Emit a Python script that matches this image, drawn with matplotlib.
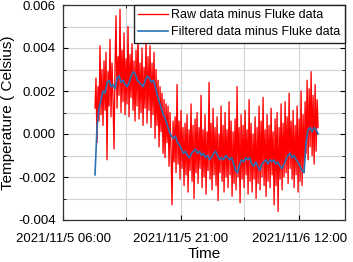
import numpy as np
import pandas as pd
import matplotlib
matplotlib.use("Agg")
import matplotlib.pyplot as plt
from matplotlib.ticker import MultipleLocator, FuncFormatter

plt.rcParams['font.family'] = ['Liberation Sans', 'DejaVu Sans']

# ---- data ----
start_time = "2021-11-05 10:04"
end_time = "2021-11-06 14:25"

filtered = [
    -0.0019, 0.0003, 0.0012, 0.0016, 0.0020, 0.0019, 0.0024, 0.0025, 0.0022, 0.0023,
    0.0021, 0.0026, 0.0027, 0.0024, 0.0025, 0.0023, 0.0022, 0.0024, 0.0027, 0.0029,
    0.0028, 0.0025, 0.0024, 0.0023, 0.0022, 0.0025, 0.0027, 0.0026, 0.0024, 0.0025,
    0.0022, 0.0018, 0.0015, 0.0012, 0.0009, 0.0007, 0.0004, 0.0001, -0.0001, -0.0002,
    -0.0001, -0.0004, -0.0005, -0.0007, -0.0009, -0.0008, -0.0010, -0.0011, -0.0009, -0.0008,
    -0.0007, -0.0009, -0.0008, -0.0010, -0.0009, -0.0011, -0.0010, -0.0012, -0.0011, -0.0009,
    -0.0008, -0.0010, -0.0012, -0.0011, -0.0012, -0.0010, -0.0011, -0.0012, -0.0011, -0.0014,
    -0.0017, -0.0018, -0.0014, -0.0012, -0.0013, -0.0011, -0.0012, -0.0011, -0.0014, -0.0015,
    -0.0013, -0.0015, -0.0017, -0.0014, -0.0013, -0.0012, -0.0014, -0.0012, -0.0013, -0.0012,
    -0.0014, -0.0013, -0.0015, -0.0016, -0.0014, -0.0012, -0.0010, -0.0009, -0.0011, -0.0010,
    -0.0012, -0.0013, -0.0015, -0.0017, -0.0018, -0.0004, 0.0002, 0.0003, 0.0001, 0.0003,
    0.0002, 0.0000,
]

raw = [
    0.0012, 0.0026, -0.0004, 0.0022, 0.0006, 0.0041, 0.0009, 0.0030, 0.0004, 0.0034,
    0.0011, 0.0038, -0.0012, 0.0029, 0.0013, 0.0044, 0.0008, 0.0033, 0.0016, -0.0007,
    0.0031, 0.0055, 0.0012, 0.0036, 0.0018, 0.0058, 0.0010, 0.0039, 0.0015, 0.0047,
    0.0009, 0.0035, 0.0014, 0.0050, 0.0008, 0.0037, 0.0017, 0.0042, 0.0011, 0.0034,
    0.0006, 0.0039, 0.0013, 0.0046, 0.0007, 0.0033, 0.0010, 0.0040, 0.0004, 0.0031,
    0.0012, 0.0044, 0.0005, 0.0036, 0.0011, 0.0041, 0.0003, 0.0033, 0.0009, 0.0038,
    -0.0002, 0.0030, 0.0004, 0.0025, -0.0006, 0.0022, 0.0001, 0.0019, -0.0009, 0.0016,
    -0.0011, 0.0014, -0.0004, 0.0013, -0.0015, 0.0010, -0.0008, -0.0033, 0.0006, -0.0013,
    0.0008, -0.0018, 0.0023, -0.0014, 0.0006, -0.0021, 0.0011, -0.0016, 0.0003, -0.0024,
    0.0005, -0.0019, 0.0009, -0.0027, 0.0002, -0.0017, 0.0014, -0.0022, 0.0004, -0.0030,
    0.0007, -0.0018, 0.0010, -0.0023, 0.0003, -0.0016, 0.0018, -0.0025, 0.0002, -0.0020,
    0.0009, -0.0028, 0.0001, -0.0017, 0.0024, -0.0021, 0.0005, -0.0026, 0.0012, -0.0019,
    0.0003, -0.0024, 0.0008, -0.0031, 0.0000, -0.0018, 0.0013, -0.0022, 0.0004, -0.0027,
    0.0010, -0.0020, 0.0002, -0.0025, 0.0015, -0.0019, 0.0006, -0.0029, 0.0001, -0.0023,
    0.0007, -0.0026, 0.0022, -0.0020, 0.0003, -0.0032, 0.0009, -0.0021, 0.0004, -0.0025,
    0.0011, -0.0019, 0.0002, -0.0028, 0.0016, -0.0022, 0.0005, -0.0027, 0.0000, -0.0021,
    0.0008, -0.0030, 0.0003, -0.0023, 0.0013, -0.0026, 0.0006, -0.0020, 0.0017, -0.0024,
    0.0002, -0.0029, 0.0009, -0.0022, 0.0004, -0.0025, 0.0012, -0.0019, 0.0001, -0.0033,
    0.0007, -0.0024, 0.0010, -0.0036, 0.0003, -0.0021, 0.0014, -0.0026, 0.0005, -0.0020,
    0.0015, -0.0018, 0.0008, -0.0023, 0.0019, -0.0016, 0.0006, -0.0021, 0.0011, -0.0025,
    0.0004, -0.0019, 0.0013, -0.0027, 0.0007, -0.0022, 0.0020, -0.0024, 0.0009, -0.0018,
    0.0015, -0.0009, 0.0025, -0.0012, 0.0021, -0.0006, 0.0029, -0.0010, 0.0018, -0.0014,
    0.0023, -0.0008, 0.0016, 0.0003,
]

series_labels = ["Raw data minus Fluke data", "Filtered data minus Fluke data"]
x_ticks = ["2021-11-05 06:00", "2021-11-05 21:00", "2021-11-06 12:00"]
x_minor = ["2021-11-05 14:00", "2021-11-06 05:00"]
x_limits = ["2021-11-05 06:00", "2021-11-06 17:50"]

# ---- figure ----
t_raw = pd.date_range(start_time, end_time, periods=len(raw))
t_filt = pd.date_range(start_time, end_time, periods=len(filtered))

fig = plt.figure(figsize=(3.53, 2.62), dpi=100)
ax = fig.add_axes([63/353, 1-220/262, (345-63)/353, (220-5)/262])

ax.plot(t_raw, raw, color='#ff0000', lw=0.95, label=series_labels[0], zorder=3)
ax.plot(t_filt, filtered, color='#2a72b5', lw=1.2, label=series_labels[1], zorder=4)

ax.set_xlim(pd.Timestamp(x_limits[0]), pd.Timestamp(x_limits[1]))
ax.set_ylim(-0.004, 0.006)
ax.yaxis.set_major_locator(MultipleLocator(0.002))
ax.yaxis.set_minor_locator(MultipleLocator(0.001))
ax.yaxis.set_major_formatter(FuncFormatter(lambda v, p: f"{v:.3f}".replace("-0.000", "0.000")))

ax.set_xticks([pd.Timestamp(s) for s in x_ticks])
ax.set_xticks([pd.Timestamp(s) for s in x_minor], minor=True)
ax.set_xticklabels([pd.Timestamp(s).strftime('%Y/%m/') + str(pd.Timestamp(s).day)
                    + pd.Timestamp(s).strftime(' %H:%M') for s in x_ticks])

ax.grid(True, which='both', color='#d2d2d2', lw=0.8, zorder=0)
ax.set_axisbelow(True)
ax.tick_params(which='both', direction='in', top=True, right=True, labelsize=9.5)
ax.tick_params(axis='x', pad=9)
ax.tick_params(axis='y', pad=5)
ax.tick_params(which='major', length=3.5)
ax.tick_params(which='minor', length=2)
for s in ax.spines.values():
    s.set_linewidth(0.9)
    s.set_color('#333333')

ax.set_xlabel('Time', fontsize=11, labelpad=2)
ax.set_ylabel('Temperature ( Celsius)', fontsize=11, va='center')
ax.yaxis.set_label_coords(-0.195, 0.5)

leg = ax.legend(loc='upper right', fontsize=9, frameon=True, fancybox=False,
                borderaxespad=0, handlelength=2.4, handletextpad=0.25,
                borderpad=0.35, labelspacing=0.4)
leg.get_frame().set_edgecolor('#222222')
leg.get_frame().set_linewidth(1.0)
leg.get_frame().set_alpha(1)

fig.savefig('out.png', dpi=100)
